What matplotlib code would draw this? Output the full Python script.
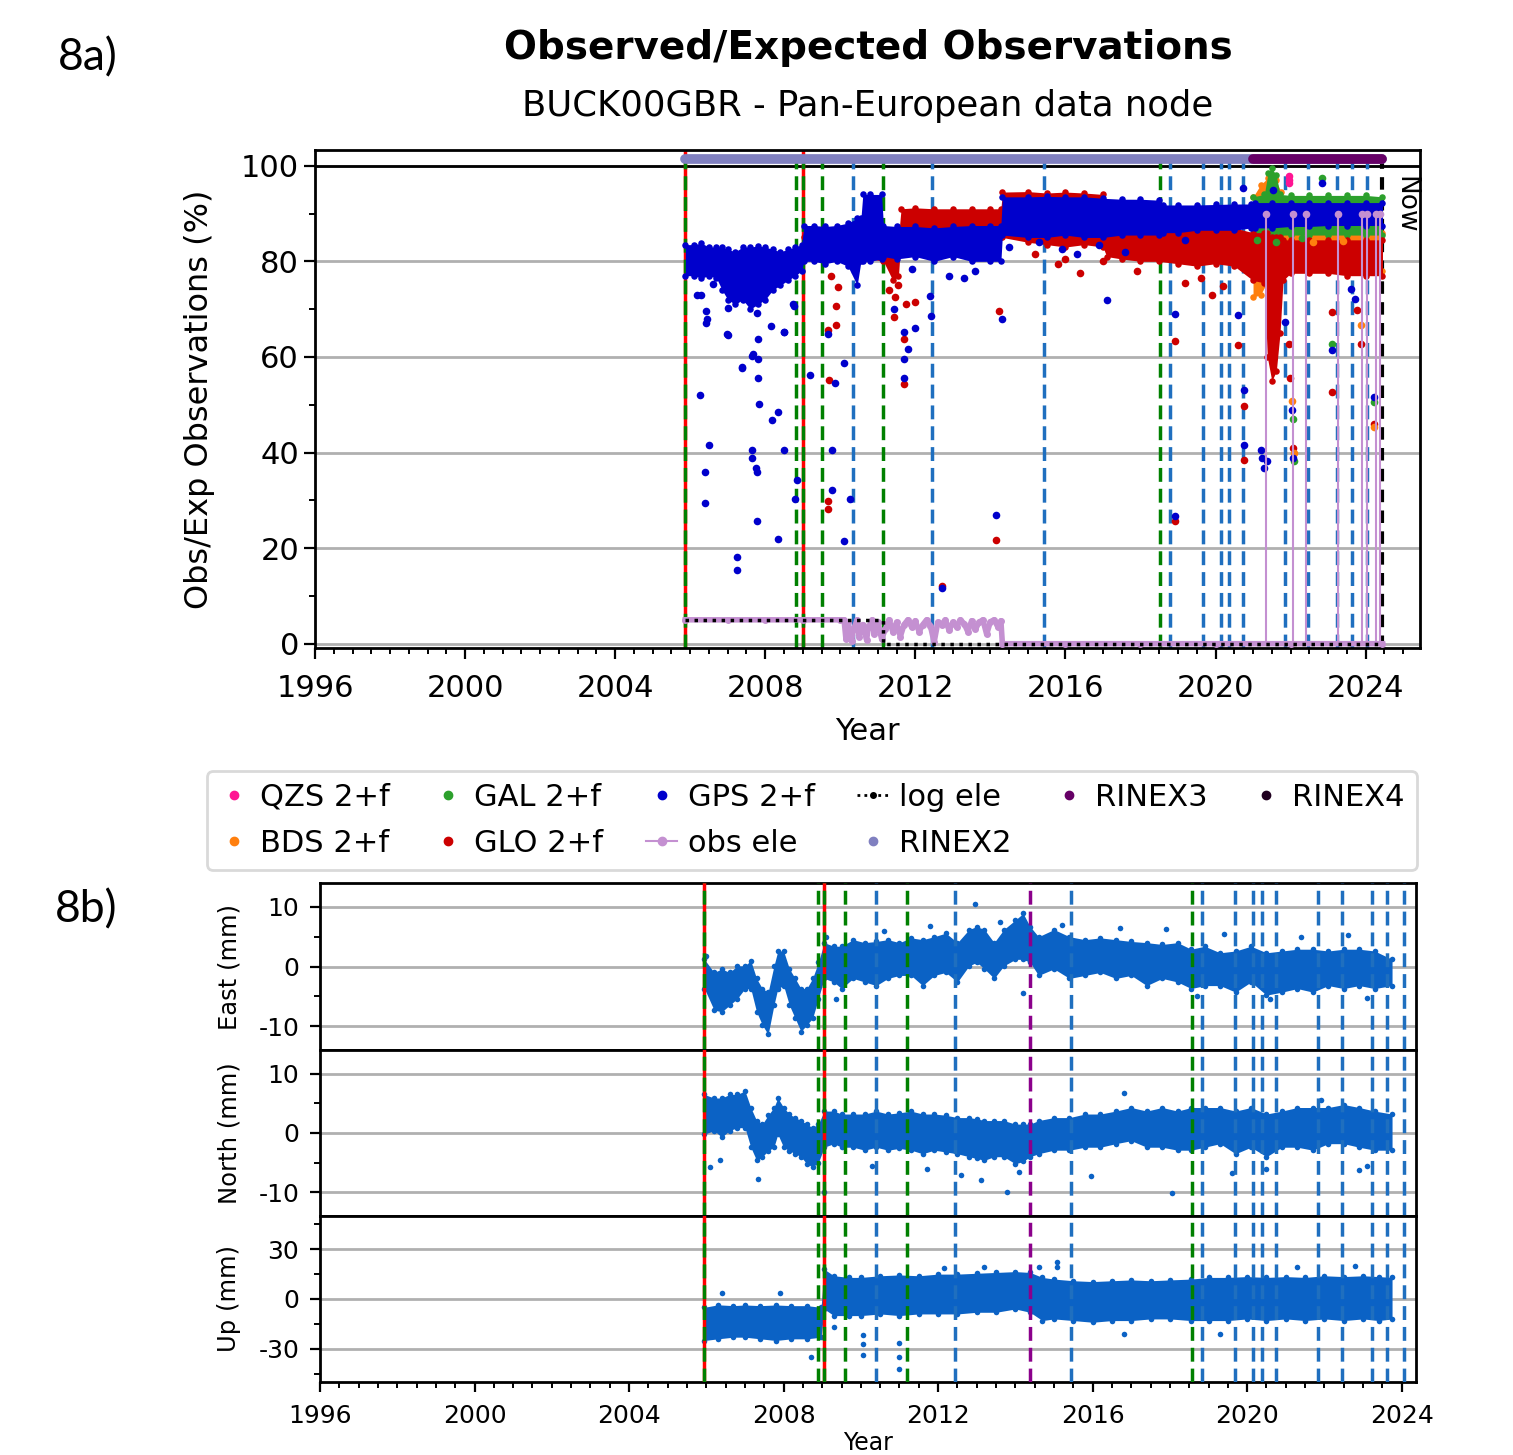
import matplotlib
matplotlib.use("Agg")
import matplotlib.pyplot as plt
from matplotlib.lines import Line2D
import matplotlib.ticker as mticker

# ---------------- DATA: panel 8a (Observed / Expected observations, %) ----------------
gps_t = [2005.87, 2006.1, 2006.3, 2006.5, 2006.7, 2006.85, 2007.0, 2007.2, 2007.4, 2007.6, 2007.8,
         2008.0, 2008.2, 2008.4, 2008.6, 2008.8, 2008.97, 2009.03, 2009.3, 2009.6, 2009.9, 2010.2,
         2010.45, 2010.55, 2010.6, 2010.8, 2011.1, 2011.15, 2011.5, 2012.0, 2012.5, 2013.0, 2013.5,
         2014.0, 2014.28, 2014.32, 2015.0, 2015.5, 2016.0, 2016.5, 2017.0, 2017.5, 2018.0, 2018.5,
         2018.6, 2019.0, 2019.5, 2020.0, 2020.5, 2020.95, 2021.05, 2021.5, 2022.0, 2022.5, 2023.0,
         2023.5, 2024.0, 2024.45]
gps_lo = [77, 77, 76.5, 77, 76.5, 74, 72, 71, 72, 70, 71,
          72, 74, 75, 76, 77, 78, 80, 80, 79.5, 80, 79,
          75, 80, 80, 80, 80.5, 81, 80.5, 81, 80, 81, 80,
          80, 80, 85.5, 85, 85, 85.5, 85, 85, 85.5, 85.5, 85.5,
          86, 86, 86.5, 86.5, 86.5, 87, 87, 87, 87.3, 87.3, 87.5,
          87.5, 87.5, 87.5]
gps_hi = [83.5, 83.5, 83.8, 83, 83, 83, 82.5, 82, 83, 83, 83.2,
          83, 82.5, 82, 82.5, 83, 83.5, 87.5, 87.5, 87.3, 87.5, 88,
          89, 89, 94, 94, 94, 87.5, 87.3, 87.3, 87, 87.3, 87.5,
          87.5, 87.5, 93.5, 93.5, 93.6, 93.5, 93.5, 93.2, 93, 93, 92.8,
          91.8, 91.8, 91.8, 91.9, 92, 92, 92.3, 92.3, 92.3, 92.3, 92.3,
          92.3, 92.3, 92.3]

glo_t = [2009.03, 2009.5, 2010.0, 2010.5, 2011.15, 2011.4, 2011.55, 2011.62, 2012.0, 2012.5, 2013.0,
         2013.5, 2014.0, 2014.28, 2014.32, 2015.0, 2015.5, 2016.0, 2016.5, 2017.0, 2017.1, 2017.5,
         2018.0, 2018.5, 2019.0, 2019.5, 2020.0, 2020.5, 2021.0, 2021.3, 2021.38, 2021.5, 2021.62,
         2021.72, 2021.8, 2022.0, 2022.5, 2023.0, 2023.5, 2024.0, 2024.45]
glo_lo = [81, 81, 81, 81, 80, 76, 77, 85, 85.5, 85.5, 86,
          85.5, 85.5, 85, 85, 84, 83.5, 83, 83.5, 83, 81, 80.5,
          80, 80, 79.5, 79, 79.5, 79, 76, 75.5, 60, 55, 57,
          65, 76, 77.5, 77.5, 77.5, 77, 77, 77]
glo_hi = [85, 85, 85, 86, 85, 84, 85, 91, 91.2, 91, 91,
          91, 91, 91, 94.5, 94.6, 94.3, 94.5, 94.3, 94, 91, 90,
          90, 88, 87, 87, 87, 87, 86, 86, 86, 85, 85,
          85, 84.5, 84.5, 84.5, 84.5, 84.5, 84.5, 84.5]

gal_t = [2021.0, 2021.3, 2021.4, 2021.5, 2021.62, 2021.72, 2022.0, 2022.5, 2023.0, 2023.5, 2024.0, 2024.45]
gal_lo = [85.5, 85.5, 85.5, 85.5, 85.5, 85.5, 85.5, 85.5, 85.5, 85.5, 85.5, 85.5]
gal_hi = [93.5, 94, 98.5, 99.5, 98, 94, 93.8, 93.8, 93.8, 93.8, 93.8, 93.5]

bds_t = [2021.0, 2021.2, 2021.4, 2021.6, 2021.75, 2022.0, 2022.5, 2023.0, 2023.5, 2024.0, 2024.45]
bds_lo = [72.5, 73, 76, 76, 77.5, 78, 78, 78, 78, 78, 78]
bds_hi = [93.5, 96, 97.5, 97, 94.5, 86, 86, 86, 86, 86, 86]

gps_out_t = [2006.27, 2006.39, 2006.39, 2006.5, 2006.44, 2006.3, 2007.25, 2007.25, 2007.38, 2006.97,
             2007.65, 2007.65, 2007.76, 2007.77, 2007.77, 2007.65, 2007.8, 2007.8, 2007.8, 2007.84,
             2008.18, 2008.34, 2008.34, 2008.5, 2008.5, 2008.78, 2008.84, 2008.74, 2009.19, 2006.19,
             2006.42, 2006.43, 2006.6, 2007.0, 2007.67, 2008.15, 2008.51, 2008.77, 2007.0, 2007.39,
             2007.79, 2009.87, 2009.78, 2009.78, 2010.1, 2010.1, 2010.27, 2009.67, 2011.71, 2011.71,
             2011.81, 2011.71, 2012.0, 2011.42, 2012.42, 2012.4, 2012.72, 2014.15, 2014.3, 2017.1,
             2018.92, 2018.93, 2020.61, 2020.75, 2020.75, 2021.21, 2021.25, 2021.3, 2021.37, 2020.72,
             2021.53, 2021.84, 2022.05, 2022.07, 2022.84, 2023.11, 2024.23, 2023.62, 2023.73, 2014.5,
             2015.3, 2016.9, 2019.2, 2013.6, 2012.9, 2013.3, 2011.9, 2015.9, 2016.3, 2017.6]
gps_out_v = [52.0, 36.0, 29.5, 41.5, 68.0, 73.0, 18.2, 15.4, 57.9, 64.9,
             40.6, 38.8, 36.8, 35.9, 25.6, 60.3, 63.8, 55.5, 59.6, 50.1,
             46.8, 48.5, 22.0, 40.6, 65.3, 30.3, 34.2, 71.0, 56.3, 72.9,
             69.6, 67.1, 75.3, 64.6, 60.7, 66.4, 65.2, 70.6, 70.3, 57.7,
             69.2, 54.5, 32.2, 40.6, 58.8, 21.5, 30.3, 64.8, 55.5, 59.5,
             61.7, 65.3, 66.1, 70.1, 68.5, 72.8, 11.6, 27.0, 68.0, 71.9,
             26.8, 69.0, 68.8, 53.1, 41.5, 40.6, 38.8, 36.7, 38.3, 95.4,
             95.0, 67.4, 49.0, 38.8, 96.4, 61.4, 51.7, 74.2, 72.1, 83.0,
             84.0, 83.5, 84.5, 78.0, 77.0, 76.5, 78.5, 82.5, 81.5, 82.0]

glo_out_t = [2009.69, 2009.66, 2009.89, 2009.89, 2009.95, 2009.67, 2009.67, 2011.71, 2011.71, 2011.75,
             2012.0, 2011.42, 2012.72, 2014.15, 2014.24, 2018.92, 2018.93, 2020.61, 2020.75, 2020.75,
             2021.97, 2021.98, 2022.07, 2023.11, 2023.11, 2023.76, 2023.87, 2024.23, 2015.8, 2016.4,
             2017.9, 2019.2, 2019.9, 2020.2, 2019.6, 2017.0, 2016.0, 2015.2, 2009.75, 2010.4,
             2011.3, 2011.45, 2011.55]
glo_out_v = [55.1, 65.7, 66.7, 70.7, 74.6, 29.8, 28.2, 54.3, 63.8, 71.1,
             71.6, 68.3, 12.0, 21.8, 69.6, 25.7, 63.4, 62.4, 49.7, 38.5,
             62.8, 55.6, 40.9, 69.4, 52.7, 69.9, 62.8, 45.9, 79.5, 77.5,
             78.0, 75.4, 73.0, 74.8, 76.5, 80.0, 80.5, 81.6, 77.0, 78.5,
             74.0, 72.5, 75.0]

gal_out_t = [2022.07, 2022.09, 2023.11, 2024.23, 2022.84, 2021.1, 2021.6, 2022.3]
gal_out_v = [47.0, 38.3, 62.8, 50.6, 97.5, 84.5, 84.0, 84.8]
bds_out_t = [2022.05, 2022.08, 2023.87, 2024.23, 2022.6, 2023.4]
bds_out_v = [50.8, 39.9, 66.7, 45.4, 84.0, 84.2]
qzs_out_t = [2021.97, 2021.97, 2021.95]
qzs_out_v = [97.8, 96.4, 97.0]

obs_t = [2005.87, 2007.0, 2008.0, 2009.0, 2010.0, 2010.1, 2010.15, 2010.2, 2010.3, 2010.35,
         2010.45, 2010.5, 2010.6, 2010.7, 2010.75, 2010.85, 2010.9, 2011.0, 2011.1, 2011.2,
         2011.3, 2011.4, 2011.5, 2011.6, 2011.7, 2011.8, 2011.9, 2012.0, 2012.1, 2012.2,
         2012.3, 2012.4, 2012.5, 2012.6, 2012.7, 2012.8, 2012.9, 2013.0, 2013.1, 2013.2,
         2013.3, 2013.4, 2013.5, 2013.6, 2013.7, 2013.8, 2013.9, 2014.0, 2014.1, 2014.2,
         2014.28, 2014.32, 2016.0, 2018.0, 2020.0, 2022.0, 2024.45]
obs_v = [5, 5, 5, 5, 5, 5, 1, 4.5, 0.5, 3,
         5, 1.5, 4, 0.8, 3.5, 5, 2, 4.5, 1, 3,
         5, 2.5, 4.5, 1.5, 4, 5, 3.5, 4.8, 2.5, 4,
         5, 3.8, 0.3, 4.5, 4, 5, 2.8, 4.5, 3.5, 5,
         4.2, 2.5, 4.8, 3, 4.5, 5, 2, 4.6, 5, 3.5,
         4.8, 0, 0, 0, 0, 0, 0]
obs_spike_t = [2021.35, 2022.06, 2022.4, 2023.26, 2023.91, 2024.04, 2024.28, 2024.39]
obs_spike_v = [90, 90, 90, 90, 90, 90, 90, 90]

log_t = [2005.87, 2011.14, 2011.14, 2024.45]
log_v = [5, 5, 0, 0]

rinex2_t = [2005.87, 2024.45]
rinex3_t = [2021.0, 2024.45]
rinex_level = 101.5

ev8a_redgreen = [2005.87, 2009.0]
ev8a_green = [2008.83, 2009.51, 2011.14, 2018.52]
ev8a_blue = [2010.35, 2012.45, 2015.42, 2018.8, 2019.66, 2020.14, 2020.37, 2020.72,
             2021.84, 2022.46, 2023.25, 2023.64, 2024.03]
now_t = 2024.45

# ---------------- DATA: panel 8b (coordinate time series, mm) ----------------
enu_t = [2005.95, 2006.2, 2006.4, 2006.6, 2006.8, 2007.0, 2007.15, 2007.3, 2007.45, 2007.6,
         2007.75, 2007.85, 2008.0, 2008.15, 2008.3, 2008.45, 2008.6, 2008.75, 2008.9, 2009.05,
         2009.3, 2009.5, 2009.8, 2010.1, 2010.4, 2010.7, 2011.0, 2011.3, 2011.6, 2011.9,
         2012.2, 2012.5, 2012.8, 2013.0, 2013.2, 2013.45, 2013.7, 2014.0, 2014.2, 2014.38,
         2014.6, 2015.0, 2015.4, 2015.8, 2016.2, 2016.6, 2017.0, 2017.4, 2017.8, 2018.2,
         2018.55, 2018.9, 2019.3, 2019.7, 2020.1, 2020.5, 2020.9, 2021.3, 2021.7, 2022.1,
         2022.5, 2022.9, 2023.3, 2023.75]
east_hi = [1.2, -1.0, -0.4, -1.0, 0.1, 0.1, 1.0, -2.0, -3.7, -4.3,
           0.1, 2.6, 2.6, -0.4, -2.0, -3.7, -3.7, -2.0, 0.7, 4.0,
           3.4, 3.4, 4.5, 4.0, 4.2, 4.5, 4.0, 4.8, 4.5, 5.0,
           5.6, 4.0, 6.2, 6.7, 6.2, 4.0, 6.2, 7.8, 8.9, 6.7,
           5.0, 6.2, 5.0, 4.5, 4.8, 4.5, 4.2, 4.0, 3.7, 4.0,
           2.9, 3.4, 2.3, 2.6, 3.4, 2.3, 2.6, 2.9, 2.9, 2.6,
           2.9, 2.9, 2.6, 1.2]
east_lo = [-3.7, -7.3, -7.6, -6.5, -5.4, -3.7, -3.7, -7.6, -9.8, -11.4,
           -6.5, -3.7, -3.2, -6.5, -8.7, -10.9, -9.8, -8.7, -5.4, -2.0,
           -2.6, -3.7, -2.0, -2.6, -3.2, -2.0, -1.5, -1.5, -3.2, -1.5,
           -1.0, -2.6, 0.1, 0.7, -0.4, -2.0, 0.1, 1.2, 1.2, 0.7,
           -1.5, -0.4, -2.0, -1.5, -1.0, -2.0, -1.5, -3.2, -2.0, -2.6,
           -3.7, -3.2, -3.2, -4.3, -2.6, -4.8, -4.3, -3.7, -4.3, -3.2,
           -3.7, -3.2, -3.7, -3.2]
north_hi = [6.5, 5.9, 5.9, 6.5, 6.5, 7.1, 4.3, 2.1, 1.5, 3.0,
            4.3, 5.9, 4.3, 3.2, 2.6, 2.1, 1.5, 0.9, 1.5, 3.7,
            3.7, 3.2, 3.2, 3.2, 3.7, 3.2, 3.4, 3.7, 3.2, 3.2,
            3.0, 2.6, 2.6, 2.4, 2.1, 2.1, 2.1, 1.5, 1.5, 1.5,
            2.1, 2.6, 2.6, 3.2, 3.2, 3.7, 4.3, 3.7, 4.3, 3.7,
            4.3, 4.3, 4.3, 3.7, 4.3, 3.2, 3.7, 4.3, 4.3, 4.3,
            4.8, 4.3, 3.7, 3.2]
north_lo = [-0.2, 0.4, -0.7, 0.4, 0.9, 0.9, -2.4, -4.6, -4.0, -3.0,
            -2.4, -0.2, -2.4, -3.0, -3.5, -4.0, -5.2, -5.7, -5.0, -2.4,
            -1.8, -2.4, -2.4, -2.9, -2.4, -2.9, -2.6, -2.9, -3.5, -2.9,
            -3.2, -3.5, -4.0, -4.3, -4.6, -4.0, -4.0, -5.2, -4.8, -4.0,
            -3.5, -2.9, -2.9, -2.4, -2.4, -1.8, -1.3, -2.4, -2.4, -2.9,
            -2.9, -2.4, -1.8, -3.5, -2.4, -4.0, -2.4, -2.4, -2.9, -1.8,
            -1.8, -2.4, -2.9, -2.9]

up_t = [2005.95, 2006.3, 2006.7, 2007.0, 2007.4, 2007.8, 2008.2, 2008.6, 2008.97, 2009.05,
        2009.3, 2009.7, 2010.0, 2010.5, 2011.0, 2011.5, 2012.0, 2012.5, 2013.0, 2013.5,
        2014.0, 2014.38, 2014.7, 2015.0, 2015.5, 2016.0, 2016.5, 2017.0, 2017.5, 2018.0,
        2018.55, 2019.0, 2019.5, 2020.0, 2020.5, 2021.0, 2021.5, 2022.0, 2022.5, 2023.0,
        2023.4, 2023.75]
up_hi = [-5, -3.5, -4, -3.6, -4, -3.6, -4, -4, -5, 18,
         14, 13, 13, 14, 14.5, 14, 15, 15, 15.5, 16,
         16.5, 16, 13, 12, 11, 10.5, 11, 11.5, 11, 11.5,
         12, 13, 13, 13.5, 13, 13.5, 13, 14, 13.5, 14,
         13.5, 13]
up_lo = [-25, -24, -23, -23, -24, -25, -24, -24, -23, -6,
         -10, -10, -10, -9, -10, -9, -9, -9, -8, -8,
         -6, -8, -13, -12, -13, -14, -13, -13, -12, -12,
         -13, -13, -13, -12, -13, -12, -13, -12, -13, -12,
         -13, -12]

east_out_t = [2012.95, 2014.2, 2009.35, 2020.58, 2023.1, 2006.0, 2016.7, 2019.4, 2009.1,
              2010.6, 2011.8, 2015.2, 2017.9, 2021.4, 2022.6, 2018.7, 2013.6]
east_out_v = [10.5, -4.5, -5.5, -5.5, -5.2, 1.8, 6.5, 5.5, 5.0,
              6.0, 6.8, 7.0, 6.3, 5.0, 5.2, -5.0, 7.5]
north_out_t = [2007.34, 2013.78, 2018.06, 2015.95, 2019.6, 2006.1, 2006.35, 2012.6, 2013.1,
               2009.05, 2011.7, 2016.8, 2021.9, 2022.9, 2010.3, 2014.1, 2020.5, 2023.1]
north_out_v = [-7.7, -9.9, -10.2, -7.2, -6.8, -5.7, -4.5, -7.0, -8.0,
               -10.0, -6.0, 6.8, 5.5, -6.2, -5.5, -6.5, -6.0, -5.5]
up_out_t = [2008.72, 2009.3, 2010.06, 2010.06, 2010.06, 2010.99, 2010.99, 2010.99, 2012.14,
            2015.08, 2015.08, 2014.6, 2006.4, 2007.9, 2019.3, 2016.8, 2013.2, 2021.3, 2022.8]
up_out_v = [-34.8, -16.7, -21.7, -27, -33.8, -26.8, -35, -42.3, 18.5,
            22.5, 19.5, 19.5, 3.5, 3.5, -21, -21, 19.0, 19.5, 20.0]

ev8b_redgreen = [2005.93, 2009.04]
ev8b_green = [2008.88, 2009.58, 2011.19, 2018.58]
ev8b_blue = [2010.39, 2012.43, 2015.44, 2018.84, 2019.69, 2020.16, 2020.39, 2020.75,
             2021.84, 2022.46, 2023.24, 2023.63, 2024.07]
ev8b_purple = [2014.38]

years_major = [1996, 2000, 2004, 2008, 2012, 2016, 2020, 2024]

# ---------------- colours ----------------
C_GPS = "#0000cc"
C_GLO = "#cc0000"
C_GAL = "#2ca02c"
C_BDS = "#ff7f0e"
C_QZS = "#ff1493"
C_OBS = "#c490d1"
C_R2 = "#8080c0"
C_R3 = "#660066"
C_R4 = "#200020"
C_EVB = "#1f6fbf"
C_EVG = "#008000"
C_ENU = "#0b62c5"

W, H = 1513, 1455
fig = plt.figure(figsize=(W / 100, H / 100), dpi=100)


def fx(p):
    return p / W


def fy(p):
    return 1 - p / H


def band(ax, t, lo, hi, color, z, s=22):
    ax.fill_between(t, lo, hi, color=color, lw=0, zorder=z)
    ax.scatter(t, lo, s=s, color=color, zorder=z, lw=0)
    ax.scatter(t, hi, s=s, color=color, zorder=z, lw=0)


def events(ax, rg, green, blue, z, purple=()):
    for x in rg:
        ax.axvline(x, color="red", lw=2.5, zorder=z)
        ax.axvline(x, color=C_EVG, lw=2.5, ls=(0, (4, 2)), zorder=z + 0.1)
    for x in green:
        ax.axvline(x, color=C_EVG, lw=2.5, ls=(0, (4, 2)), zorder=z)
    for x in blue:
        ax.axvline(x, color=C_EVB, lw=2.5, ls=(0, (4, 2)), zorder=z)
    for x in purple:
        ax.axvline(x, color="#8b008b", lw=2.5, ls=(0, (4, 2)), zorder=z)


# ================= PANEL 8a =================
ax = fig.add_axes([fx(315), fy(648), fx(1420) - fx(315), fy(150) - fy(648)])
ax.set_xlim(1996, 2025.45)
ax.set_ylim(-0.9, 103.3)
for v in [0, 20, 40, 60, 80, 100]:
    ax.axhline(v, color="#b0b0b0", lw=2, zorder=0)
ax.axhline(100, color="black", lw=2, zorder=1)

events(ax, ev8a_redgreen, ev8a_green, ev8a_blue, z=1)
ax.axvline(now_t, color="black", lw=3, ls=(0, (3, 2)), zorder=1)

band(ax, bds_t, bds_lo, bds_hi, C_BDS, 2)
band(ax, gal_t, gal_lo, gal_hi, C_GAL, 3)
band(ax, glo_t, glo_lo, glo_hi, C_GLO, 4)
band(ax, gps_t, gps_lo, gps_hi, C_GPS, 5)
ax.scatter(glo_out_t, glo_out_v, s=30, color=C_GLO, zorder=4, lw=0)
ax.scatter(gal_out_t, gal_out_v, s=30, color=C_GAL, zorder=4.5, lw=0)
ax.scatter(bds_out_t, bds_out_v, s=30, color=C_BDS, zorder=4.4, lw=0)
ax.scatter(gps_out_t, gps_out_v, s=30, color=C_GPS, zorder=5, lw=0)
ax.scatter(qzs_out_t, qzs_out_v, s=30, color=C_QZS, zorder=6, lw=0)

ax.plot(obs_t, obs_v, color=C_OBS, lw=4, marker="o", ms=4, zorder=6)
ax.vlines(obs_spike_t, 0, obs_spike_v, color=C_OBS, lw=1.5, zorder=6)
ax.scatter(obs_spike_t, obs_spike_v, s=30, color=C_OBS, zorder=6, lw=0)
ax.plot(log_t, log_v, color="black", lw=2.5, ls=(0, (1, 1.6)), zorder=7)
ax.plot(rinex2_t, [rinex_level, rinex_level], color=C_R2, lw=7, solid_capstyle="round", zorder=7)
ax.plot(rinex3_t, [rinex_level, rinex_level], color=C_R3, lw=7, solid_capstyle="round", zorder=8)

ax.xaxis.set_major_locator(mticker.FixedLocator(years_major))
ax.xaxis.set_minor_locator(mticker.MultipleLocator(0.5))
ax.yaxis.set_major_locator(mticker.MultipleLocator(20))
ax.yaxis.set_minor_locator(mticker.MultipleLocator(10))
ax.tick_params(which="major", labelsize=22, length=8, width=1.6)
ax.tick_params(axis="x", which="major", pad=11)
ax.tick_params(which="minor", length=4.5, width=1.4)
for s in ax.spines.values():
    s.set_linewidth(2)
ax.set_xlabel("Year", fontsize=22, labelpad=10)
ax.set_ylabel("Obs/Exp Observations (%)", fontsize=23, labelpad=19)
ax.text(2025.05, 91.8, "Now", rotation=270, fontsize=19, ha="center", va="center", zorder=9)

fig.text(fx(868), fy(48), "Observed/Expected Observations", fontsize=28, fontweight="bold",
         ha="center", va="center")
fig.text(fx(868), fy(106), "BUCK00GBR - Pan-European data node", fontsize=25.5,
         ha="center", va="center")
fig.text(fx(58), fy(58), "8a)", fontsize=32, family=["Lato", "DejaVu Sans"], ha="left", va="center")
fig.text(fx(55), fy(910), "8b)", fontsize=32, family=["Lato", "DejaVu Sans"], ha="left", va="center")

# legend
handles = [
    Line2D([], [], ls="none", marker="o", ms=6, color=C_QZS),
    Line2D([], [], ls="none", marker="o", ms=6, color=C_BDS),
    Line2D([], [], ls="none", marker="o", ms=6, color=C_GAL),
    Line2D([], [], ls="none", marker="o", ms=6, color=C_GLO),
    Line2D([], [], ls="none", marker="o", ms=6, color=C_GPS),
    Line2D([], [], ls="-", lw=1.5, marker="o", ms=6, color=C_OBS),
    Line2D([], [], ls=(0, (1, 1.5)), lw=2, marker=".", ms=8, color="black"),
    Line2D([], [], ls="none", marker="o", ms=6, color=C_R2),
    Line2D([], [], ls="none", marker="o", ms=6, color=C_R3),
    Line2D([], [], ls="none", marker="o", ms=6, color=C_R4),
]
labels = ["QZS 2+f", "BDS 2+f", "GAL 2+f", "GLO 2+f", "GPS 2+f", "obs ele", "log ele",
          "RINEX2", "RINEX3", "RINEX4"]
leg = fig.legend(handles, labels, ncol=6, loc="lower left", mode="expand",
                 bbox_to_anchor=(fx(207), fy(870), fx(1417) - fx(207), fy(770) - fy(870)),
                 borderaxespad=0,
                 fontsize=22, handlelength=1.0, handletextpad=0.35, columnspacing=0.8,
                 borderpad=0.4, labelspacing=0.55, frameon=True, fancybox=True,
                 edgecolor="#d0d0d0")
leg.get_frame().set_linewidth(2)

# ================= PANEL 8b =================
rows = [(883, 1050), (1050, 1216), (1216, 1382)]
axs = []
for (top, bot) in rows:
    a = fig.add_axes([fx(320), fy(bot), fx(1416) - fx(320), fy(top) - fy(bot)])
    axs.append(a)

series = [
    (enu_t, east_lo, east_hi, east_out_t, east_out_v, (-14, 14), [-10, 0, 10], 5, "East (mm)"),
    (enu_t, north_lo, north_hi, north_out_t, north_out_v, (-14, 14), [-10, 0, 10], 5, "North (mm)"),
    (up_t, up_lo, up_hi, up_out_t, up_out_v, (-50, 50), [-30, 0, 30], 15, "Up (mm)"),
]
for a, (t, lo, hi, ot, ov, yl, yt, mn, lab) in zip(axs, series):
    a.set_xlim(1996, 2024.37)
    a.set_ylim(*yl)
    for v in yt:
        a.axhline(v, color="#b0b0b0", lw=2, zorder=0)
    band(a, t, lo, hi, C_ENU, 2, s=16)
    a.scatter(ot, ov, s=16, color=C_ENU, zorder=2, lw=0)
    events(a, ev8b_redgreen, ev8b_green, ev8b_blue, z=3, purple=ev8b_purple)
    a.set_yticks(yt)
    a.set_yticklabels([str(v) for v in yt])
    a.yaxis.set_minor_locator(mticker.MultipleLocator(mn))
    a.xaxis.set_major_locator(mticker.FixedLocator(years_major))
    a.xaxis.set_minor_locator(mticker.MultipleLocator(0.5))
    a.tick_params(which="major", labelsize=18, length=7, width=1.6)
    a.tick_params(axis="y", which="major", pad=8)
    a.tick_params(axis="x", which="major", pad=9)
    a.tick_params(which="minor", length=4, width=1.4)
    for s in a.spines.values():
        s.set_linewidth(2)
    a.set_ylabel(lab, fontsize=17.5)
    a.yaxis.set_label_coords(-0.072, 0.5)
for a in axs[:2]:
    a.tick_params(axis="x", which="both", bottom=False, labelbottom=False)
fig.text(fx(868), fy(1455), "Year", fontsize=17, ha="center", va="bottom")

fig.savefig("out.png", dpi=100)
